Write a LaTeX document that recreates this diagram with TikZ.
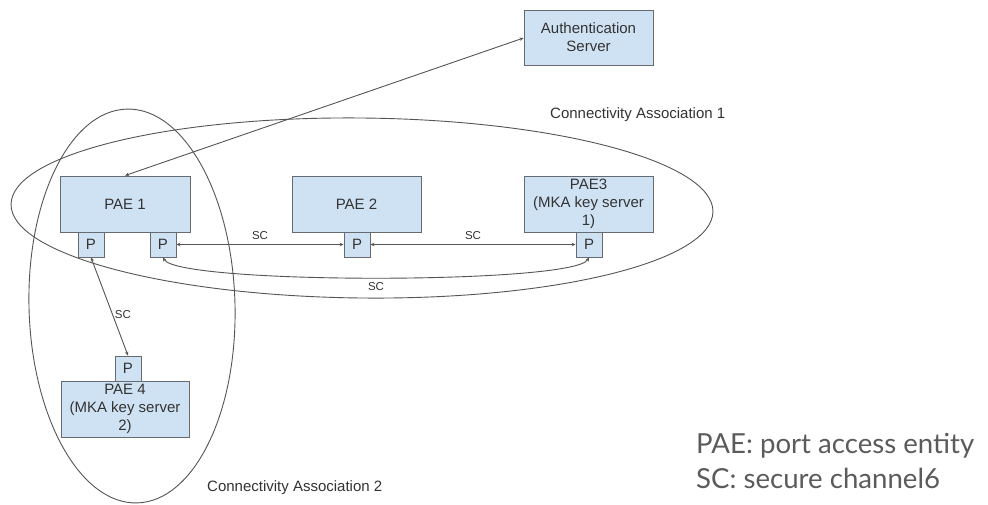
\documentclass[tikz,border=0pt]{standalone}
\usepackage{fontspec}
\setmainfont{Liberation Sans}
\newfontfamily\legendfont{Lato}
\usetikzlibrary{arrows.meta}
\definecolor{boxfill}{HTML}{CFE2F3}
\definecolor{boxedge}{HTML}{666B71}
\definecolor{wire}{HTML}{555555}
\definecolor{ink}{HTML}{333333}
\definecolor{legendink}{HTML}{5B5B5B}
\tikzset{
  entity/.style={draw=boxedge, fill=boxfill, line width=0.9pt, inner sep=0pt,
    text=ink, align=center, font=\fontsize{15}{18}\selectfont},
  port/.style={entity, minimum width=26pt, minimum height=25pt},
  wirepath/.style={draw=wire, line width=0.9pt},
  link/.style={wirepath, {Stealth[length=4pt,width=3.5pt]}-{Stealth[length=4pt,width=3.5pt]}},
  sclabel/.style={text=ink, font=\fontsize{11.5}{13}\selectfont, inner sep=1pt},
  calabel/.style={text=ink, font=\fontsize{15}{18}\selectfont, inner sep=0pt}
}
\begin{document}
\begin{tikzpicture}[x=1pt,y=1pt]
\useasboundingbox (0,0) rectangle (988,-504);
\fill[white] (0,0) rectangle (988,-504);

% connectivity associations
\draw[wirepath] (362,-208) ellipse [x radius=351, y radius=90, rotate=-0.6];
\draw[wirepath, rotate around={1.5:(132,-306)}] (132,-306) ellipse [x radius=103, y radius=197];

% entities
\node[entity, minimum width=129pt, minimum height=55pt] (auth) at (588.5,-37.5) {Authentication\\Server};
\node[entity, minimum width=130pt, minimum height=56pt] (pae1) at (125,-204) {PAE 1};
\node[entity, minimum width=129pt, minimum height=56pt] (pae2) at (356.5,-204) {PAE 2};
\node[entity, minimum width=129pt, minimum height=56pt] (pae3) at (588.5,-204) {PAE3\\(MKA key server\\1)};
\node[entity, minimum width=128pt, minimum height=56pt] (pae4) at (125,-409) {PAE 4\\(MKA key server\\2)};

% ports
\node[port] (p1a) at (91,-244.5) {P};
\node[port] (p1b) at (163,-244.5) {P};
\node[port] (p2)  at (357,-244.5) {P};
\node[port] (p3)  at (589,-244.5) {P};
\node[port] (p4)  at (128,-368.5) {P};

% links
\draw[link] (auth.west |- 0,-38) -- (pae1.north);
\draw[link] (p1b.east) -- node[sclabel, above=3pt] {SC} (p2.west);
\draw[link] (p2.east) -- node[sclabel, above=3pt] {SC} (p3.west);
\draw[link] (p1b.south) .. controls +(15,-27) and +(-15,-27) .. node[sclabel, below=3pt] {SC} (p3.south);
\draw[link] (p1a.south) -- node[sclabel, pos=0.58, right=1pt] {SC} (p4.north);

% association names
\node[calabel, anchor=west] (ca1) at (550,-115) {Connectivity Association 1};
\node[calabel, anchor=west] (ca2) at (207,-488) {Connectivity Association 2};

% legend
\node[anchor=north west, inner sep=0pt, align=left, text=legendink,
  font=\legendfont\fontsize{27.6}{35}\selectfont] (legend) at (696,-433)
  {PAE: port access entity\\SC: secure channel6};
\end{tikzpicture}
\end{document}
